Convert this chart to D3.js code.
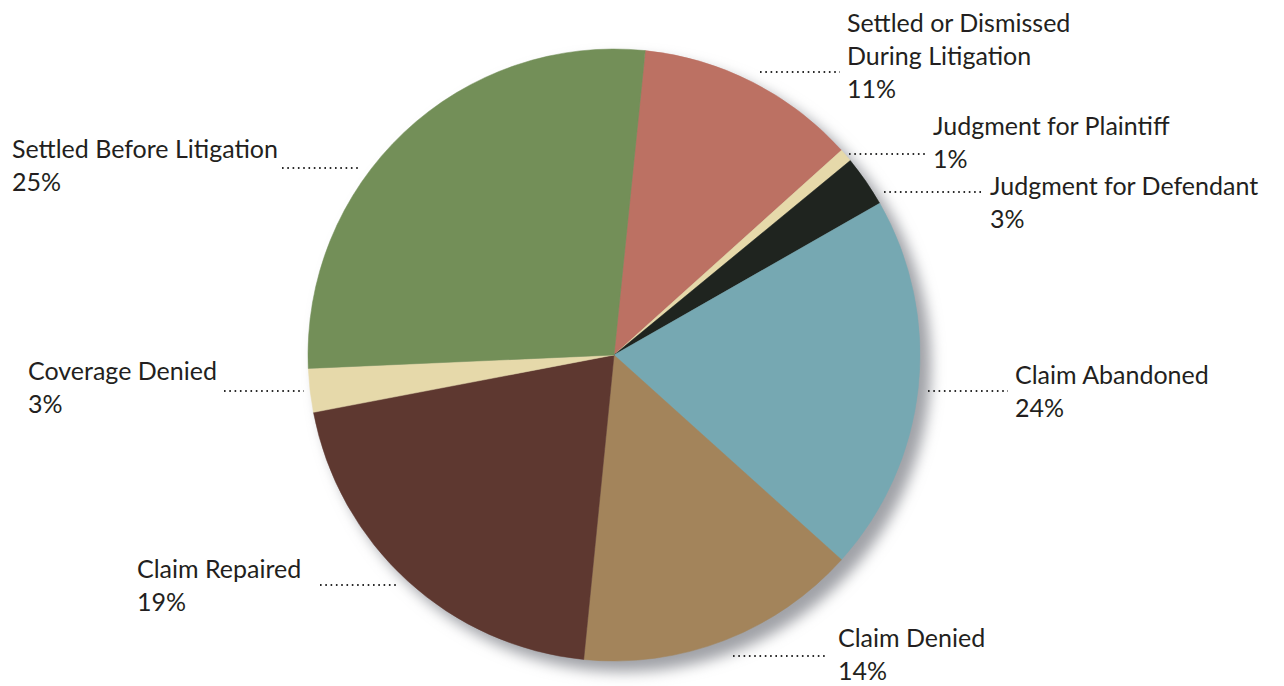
<!DOCTYPE html>
<html>
<head>
<meta charset="utf-8">
<script src="https://cdn.jsdelivr.net/npm/d3@7"></script>
<style>
  html, body { margin: 0; padding: 0; background: #ffffff; }
  svg { display: block; }
  text { font-family: "Lato", "Open Sans", sans-serif; fill: #231f20; }
</style>
</head>
<body>
<svg id="chart" width="1284" height="686"></svg>
<script>
// ---- data ----
const categories = [
  "Settled or Dismissed During Litigation",
  "Judgment for Plaintiff",
  "Judgment for Defendant",
  "Claim Abandoned",
  "Claim Denied",
  "Claim Repaired",
  "Coverage Denied",
  "Settled Before Litigation"
];
// slice shares as drawn in the picture
const values = [11.7, 0.7, 2.7, 19.9, 14.9, 20.4, 2.3, 27.3];
// percentages as printed in the labels
const labelPct = ["11%", "1%", "3%", "24%", "14%", "19%", "3%", "25%"];
const labelLines = [
  ["Settled or Dismissed", "During Litigation"],
  ["Judgment for Plaintiff"],
  ["Judgment for Defendant"],
  ["Claim Abandoned"],
  ["Claim Denied"],
  ["Claim Repaired"],
  ["Coverage Denied"],
  ["Settled Before Litigation"]
];
const colors = ["#bc7163", "#e6d9aa", "#1f241f", "#76a8b2", "#a3845b", "#5e3830", "#e6d9aa", "#738f58"];

// ---- layout (not data) ----
const cx = 614, cy = 355, R = 306;
const startDeg = 5.86;
// label anchor [x, first baseline] and leader [x1, x2, y]
const labelLayout = [
  {x: 847, y: 32, lead: [760, 840, 72]},
  {x: 933, y: 135, lead: [849, 928, 154]},
  {x: 990, y: 195, lead: [884, 982, 192]},
  {x: 1015, y: 384, lead: [928, 1008, 391]},
  {x: 838, y: 647, lead: [733, 828, 656]},
  {x: 137, y: 578, lead: [320, 398, 585]},
  {x: 28, y: 380, lead: [224, 304, 391]},
  {x: 12, y: 158, lead: [282, 360, 168]}
];
const lineH = 33;

const svg = d3.select("#chart");
const defs = svg.append("defs");
const f = defs.append("filter").attr("id", "shadow")
  .attr("x", "-20%").attr("y", "-20%").attr("width", "140%").attr("height", "140%");
f.append("feGaussianBlur").attr("stdDeviation", 7);

// shadow
svg.append("circle")
  .attr("cx", cx + 10).attr("cy", cy + 10).attr("r", R + 1)
  .attr("fill", "#a0a2a7")
  .attr("filter", "url(#shadow)");

const pie = d3.pie().sort(null).value(d => d)
  .startAngle(startDeg * Math.PI / 180)
  .endAngle(startDeg * Math.PI / 180 + 2 * Math.PI);
const arc = d3.arc().innerRadius(0).outerRadius(R);

svg.append("g").attr("transform", `translate(${cx},${cy})`)
  .selectAll("path")
  .data(pie(values))
  .join("path")
  .attr("d", arc)
  .attr("fill", (d, i) => colors[i])
  .attr("stroke", (d, i) => colors[i])
  .attr("stroke-width", 0.5);

// labels
const lg = svg.append("g");
categories.forEach((c, i) => {
  const L = labelLayout[i];
  lg.append("line")
    .attr("x1", L.lead[0]).attr("x2", L.lead[1])
    .attr("y1", L.lead[2]).attr("y2", L.lead[2])
    .attr("stroke", "#2a2a2a").attr("stroke-width", 2)
    .attr("stroke-dasharray", "1.6 3.7");
  const t = lg.append("text").attr("x", L.x).attr("y", L.y).attr("font-size", 25);
  const lines = labelLines[i].concat([labelPct[i]]);
  lines.forEach((s, k) => {
    t.append("tspan").attr("x", L.x).attr("y", L.y + k * lineH).text(s);
  });
});
</script>
</body>
</html>
